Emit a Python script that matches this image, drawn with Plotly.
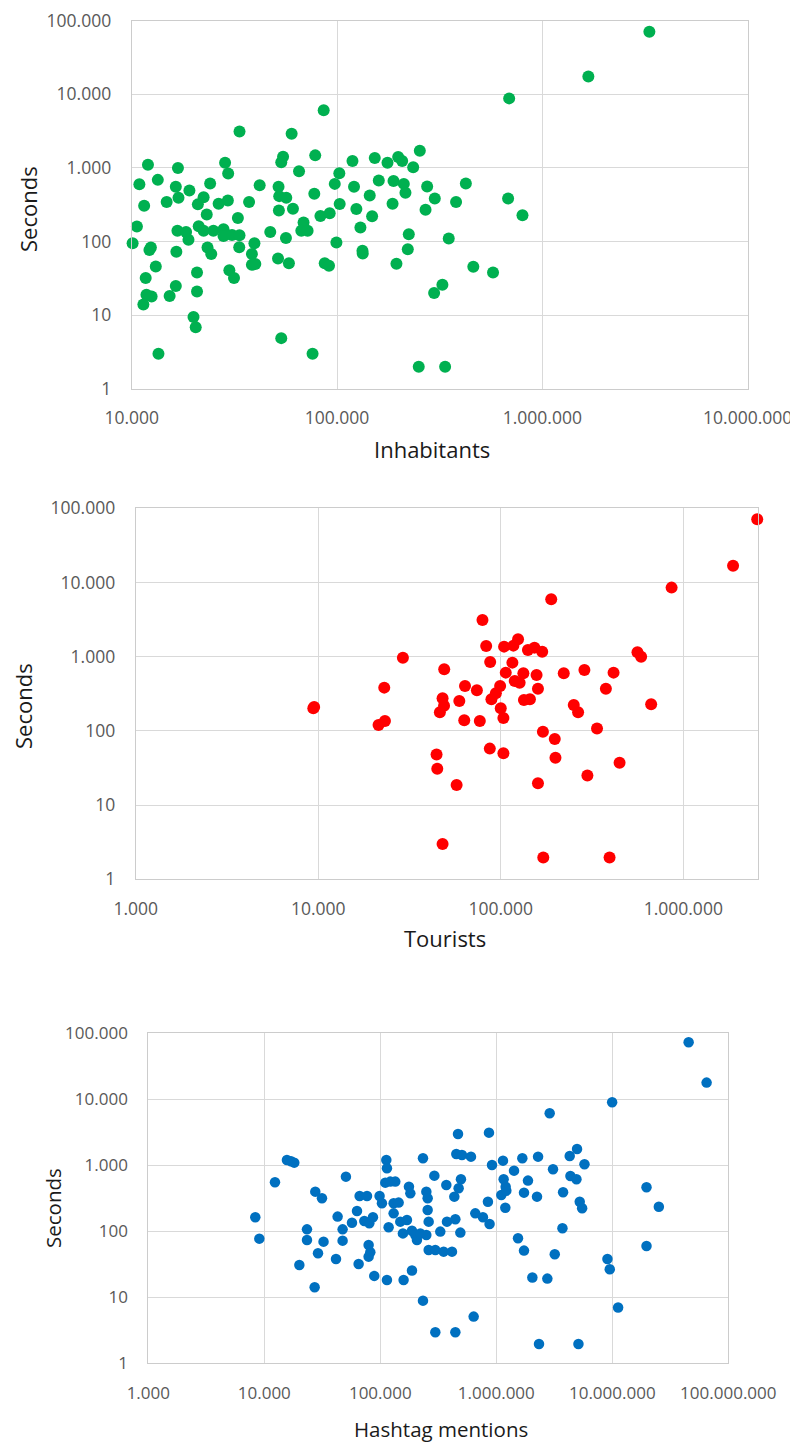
import plotly.graph_objects as go

# ---------------- Data ----------------
# Panel 1: Inhabitants vs Seconds
inhabitants = [10100, 10600, 10900, 11500, 12000, 13400, 12400, 12200, 13100, 11700,
               11800, 12500, 11400, 13500, 14800, 15300, 16400, 16500, 16800, 16400,
               16900, 16700, 18400, 18900, 19100, 20800, 20800, 20000, 20500, 21000,
               22400, 24100, 21200, 22400, 23200, 23400, 24400, 25000, 26500, 28500,
               29500, 29400, 28000, 28000, 30800, 33500, 32900, 33400, 33500, 29900,
               31500, 37300, 39600, 38500, 38500, 40000, 42000, 47300, 51600, 51900,
               52100, 52300, 54600, 53500, 56600, 56400, 58300, 53500, 60100, 61000,
               65300, 68700, 67000, 71900, 76000, 77500, 78300, 86100, 83000, 92100,
               87100, 91400, 97500, 102600, 103000, 99300, 118900, 121000, 124200, 130000,
               133000, 133400, 144300, 148200, 152700, 159700, 176100, 186400, 188400, 194700,
               198500, 207600, 211500, 215400, 223600, 221100, 234900, 253000, 250000, 274700,
               269800, 299300, 424000, 380000, 681000, 800000, 350000, 461000, 575000, 326000,
               297000, 336000, 3320000, 1675000, 689000]
seconds_inh = [95, 160, 600, 307, 1107, 688, 83, 77, 46, 32,
               19, 18, 14, 3, 344, 18.3, 25, 73, 998, 553,
               393, 140, 135, 106, 494, 38, 21, 9.5, 6.9, 320,
               401, 614, 161, 140, 234, 83, 68, 140, 326, 1178,
               837, 362, 147, 119, 123, 122, 209, 84, 3117, 41,
               32, 344, 95, 68, 48.5, 49.6, 582, 135, 59, 553,
               265, 414, 1419, 1190, 393, 112, 51, 4.9, 2898, 279,
               900, 181, 140, 140, 3.0, 445, 1479, 6046, 222, 242,
               51, 47, 607, 846, 323, 97, 1241, 553, 276, 155,
               75, 69, 423, 220, 1361, 673, 1178, 326, 666, 50,
               1404, 1241, 607, 459, 126, 79, 1019, 1710, 2, 559,
               271, 385, 614, 344, 385, 227, 110, 45.6, 38, 26,
               20, 2, 70300, 17400, 8775]

# Panel 2: Tourists vs Seconds
tourists = [9400, 9500, 29100, 23000, 21400, 23200, 49000, 63700, 48000, 48900,
            46400, 59300, 63100, 44500, 44900, 57300, 48000, 74000, 76800, 79400,
            83200, 87500, 87100, 88900, 94000, 99200, 100000, 103400, 103400, 104300,
            106500, 115800, 117300, 124400, 119300, 126900, 133000, 134000, 144500, 140900,
            153000, 168700, 157100, 159900, 170200, 197700, 199400, 159900, 171000, 189000,
            221400, 251200, 265300, 287300, 298300, 336800, 376700, 415000, 394600, 447700,
            561000, 587500, 666800, 863000, 1874000, 2541000]
seconds_tour = [202, 210, 971, 383, 120, 136, 676, 403, 275, 219,
                178, 253, 139, 48, 31, 18.7, 3.0, 352, 136, 3126,
                1396, 849, 57.7, 267, 321, 403, 202, 149, 49.9, 1367,
                610, 832, 1410, 1717, 471, 447, 597, 261, 267, 1233,
                1325, 1170, 567, 371, 97.7, 77.9, 43.6, 19.7, 1.96, 5940,
                597, 224, 178, 663, 25, 108, 371, 610, 1.96, 37.3,
                1146, 1002, 228, 8530, 16870, 71100]

# Panel 3: Hashtag mentions vs Seconds
hashtags = [8360, 9060, 12360, 15670, 18130, 16980, 20050, 23330, 23330, 27170,
            27520, 31420, 29040, 32420, 41500, 42860, 47320, 47320, 50550, 57000,
            62960, 65030, 66340, 76800, 72800, 80400, 86400, 79300, 82000, 79300,
            88700, 98600, 103300, 112700, 114100, 110400, 121900, 134600, 118000, 114100,
            130300, 130300, 143900, 148700, 156700, 158800, 176600, 181500, 169800, 187500,
            187500, 200300, 207000, 221200, 233300, 233300, 249400, 256000, 256000, 261200,
            249400, 261200, 292400, 298000, 298000, 329000, 351500, 415000, 375600, 370900,
            443600, 490000, 434500, 473500, 495700, 467700, 452000, 505800, 605000, 443600,
            638000, 659000, 864700, 918000, 847000, 767000, 875000, 1142000, 1157000, 1204000,
            1105000, 1220000, 1196000, 1422000, 1676000, 1875000, 1733000, 2243000, 2291000, 2885000,
            3083000, 3764000, 3717000, 1539000, 1733000, 2046000, 2754000, 3191000, 2334000, 5105000,
            4295000, 4966000, 4355000, 4909000, 5755000, 5240000, 5494000, 9080000, 9510000, 11220000,
            9970000, 19720000, 25190000, 19720000, 45500000, 65000000]
seconds_hash = [163, 77.4, 553, 1205, 1097, 1150, 30.9, 107, 73.9, 14.2,
                399, 316, 46.4, 69.7, 38.1, 167, 107, 72.2, 673, 135,
                203, 32, 343, 343, 143, 132, 163, 62, 48.1, 41.3,
                21.1, 343, 266, 1205, 901, 546, 566, 566, 115, 18.3,
                266, 187, 272, 140, 93, 18.3, 475, 376, 148, 102,
                25.4, 88, 73.9, 93, 1277, 8.9, 399, 316, 210, 140,
                88, 52.1, 697, 52.1, 2.95, 98.9, 49.2, 49.2, 140, 504,
                152, 95.5, 335, 448, 614, 2985, 1485, 1435, 1353, 2.95,
                5.1, 187, 3126, 1012, 281, 163, 129, 1177, 614, 475,
                355, 413, 228, 830, 1277, 586, 385, 335, 1353, 6136,
                870, 390, 111, 78.3, 51, 19.9, 19.2, 44.9, 1.96, 1.96,
                1384, 1767, 689, 614, 1036, 281, 223, 38.1, 26.6, 7.0,
                9010, 464, 236, 60, 73050, 17900]

# Tick values / labels
y_tickvals = [1, 10, 100, 1000, 10000, 100000]
y_ticktext = ["1", "10", "100", "1.000", "10.000", "100.000"]
x1_tickvals = [10000, 100000, 1000000, 10000000]
x1_ticktext = ["10.000", "100.000", "1.000.000", "10.000.000"]
x2_tickvals = [1000, 10000, 100000, 1000000]
x2_ticktext = ["1.000", "10.000", "100.000", "1.000.000"]
x3_tickvals = [1000, 10000, 100000, 1000000, 10000000, 100000000]
x3_ticktext = ["1.000", "10.000", "100.000", "1.000.000", "10.000.000", "100.000.000"]

# The page body has an 8px default margin, so the figure is sized to fit the
# 798x1445 window and page coordinates are shifted by that margin.
PAGE_MARGIN = 8
W, H = 798 - PAGE_MARGIN, 1445 - PAGE_MARGIN
TICK_FONT = dict(family="Open Sans", size=17.5, color="#595959")
TICK_FONT3 = dict(family="Open Sans", size=17, color="#595959")
TITLE_FONT = dict(family="Open Sans", size=22, color="#1a1a1a")
TITLE_FONT3 = dict(family="Open Sans", size=20.5, color="#1a1a1a")
GRID = "#D9D9D9"


def px_x(p):
    return (p - PAGE_MARGIN) / W


def px_y(p):
    return 1 - (p - PAGE_MARGIN) / H


fig = go.Figure()
fig.add_trace(go.Scatter(x=inhabitants, y=seconds_inh, mode="markers", xaxis="x", yaxis="y",
                         marker=dict(color="#00B050", size=12), cliponaxis=False, showlegend=False))
fig.add_trace(go.Scatter(x=tourists, y=seconds_tour, mode="markers", xaxis="x2", yaxis="y2",
                         marker=dict(color="#FF0000", size=12), cliponaxis=False, showlegend=False))
fig.add_trace(go.Scatter(x=hashtags, y=seconds_hash, mode="markers", xaxis="x3", yaxis="y3",
                         marker=dict(color="#0070C0", size=10.5), cliponaxis=False, showlegend=False))


def xax(domain, rng, vals, text, anchor, font, standoff):
    return dict(type="log", domain=domain, range=rng, anchor=anchor, tickvals=vals, ticktext=text,
                showgrid=True, gridcolor=GRID, gridwidth=1, zeroline=False,
                showline=True, linecolor="#CCCCCC", linewidth=1, mirror=True, automargin=False,
                ticks="", tickfont=font, ticklabelstandoff=standoff, ticklabeloverflow="allow",
                fixedrange=True)


def yax(domain, anchor, font):
    return dict(type="log", domain=domain, range=[0, 5], anchor=anchor, tickvals=y_tickvals,
                ticktext=y_ticktext, showgrid=True, gridcolor=GRID, gridwidth=1, zeroline=False,
                showline=True, linecolor="#CCCCCC", linewidth=1, mirror=True, automargin=False,
                ticks="", tickfont=font, ticklabelstandoff=16, ticklabeloverflow="allow",
                fixedrange=True)


fig.update_layout(
    width=W, height=H, margin=dict(l=0, r=0, t=0, b=0, autoexpand=False),
    paper_bgcolor="white", plot_bgcolor="white", showlegend=False,
    xaxis=xax([px_x(131.7), px_x(747.7)], [4, 7], x1_tickvals, x1_ticktext, "y", TICK_FONT, 13),
    yaxis=yax([px_y(389), px_y(20.5)], "x", TICK_FONT),
    xaxis2=xax([px_x(135.7), px_x(758.3)], [3, 6.411], x2_tickvals, x2_ticktext, "y2", TICK_FONT, 14),
    yaxis2=yax([px_y(879.3), px_y(508.3)], "x2", TICK_FONT),
    xaxis3=xax([px_x(148.3), px_x(728.3)], [3, 8], x3_tickvals, x3_ticktext, "y3", TICK_FONT3, 14),
    yaxis3=yax([px_y(1363.3), px_y(1033.3)], "x3", TICK_FONT3),
)

titles = [
    ("Inhabitants", 432, 449, 0, TITLE_FONT),
    ("Seconds", 28, 209, -90, TITLE_FONT),
    ("Tourists", 445, 938, 0, TITLE_FONT),
    ("Seconds", 23, 706, -90, TITLE_FONT),
    ("Hashtag mentions", 441, 1429, 0, TITLE_FONT3),
    ("Seconds", 53, 1208, -90, TITLE_FONT3),
]
for txt, x, y, ang, f in titles:
    fig.add_annotation(text=txt, x=px_x(x), y=px_y(y), xref="paper", yref="paper",
                       xanchor="center", yanchor="middle", showarrow=False,
                       textangle=ang, font=f)

fig.write_html("out.html")
